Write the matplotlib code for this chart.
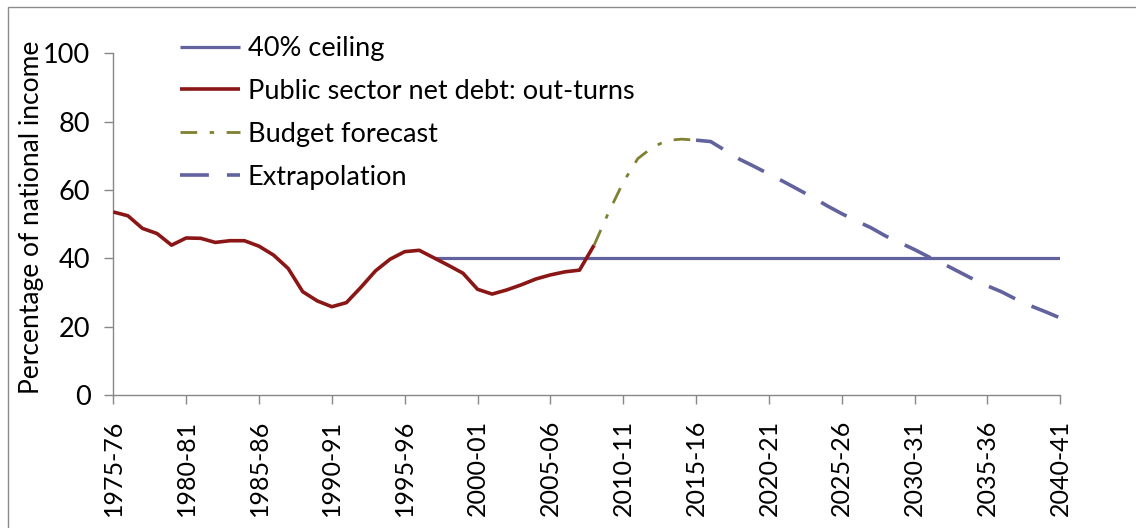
import matplotlib
matplotlib.use('Agg')
import matplotlib.pyplot as plt
from matplotlib.patches import Rectangle

# ---- data ----
years = [f"{y}-{(y + 1) % 100:02d}" for y in range(1975, 2041)]

ceiling_years = ['1997-98', '2040-41']
ceiling_values = [40, 40]

outturn_start = '1975-76'
outturn = [53.6, 52.5, 48.8, 47.3, 43.9, 46.0, 45.9, 44.7, 45.2, 45.2,
           43.6, 41.0, 37.1, 30.3, 27.6, 25.9, 27.1, 31.6, 36.4, 39.8,
           42.0, 42.4, 40.2, 38.0, 35.7, 31.0, 29.6, 30.8, 32.3, 34.0,
           35.2, 36.1, 36.6, 43.9]

forecast_start = '2008-09'
forecast = [43.9, 53.5, 62.3, 69.2, 72.5, 74.5, 74.9, 74.6]

extrap_start = '2015-16'
extrap = [74.6, 74.2, 71.6, 69.0, 66.9, 64.7, 62.5, 60.2, 57.9, 55.4,
          53.1, 51.0, 49.0, 46.6, 44.6, 42.6, 40.4, 38.4, 36.2, 34.0,
          32.0, 30.2, 28.0, 26.1, 24.4, 22.6]

tick_labels = years[::5]
y_ticks = [0, 20, 40, 60, 80, 100]

# ---- style ----
FONT = 'Lato'
plt.rcParams['font.family'] = FONT

W, H = 1136, 528
X0, X1, Y0, Y1 = 113.3, 1060.3, 395.3, 53.3
fig = plt.figure(figsize=(W / 100, H / 100), dpi=100)
ax = fig.add_axes([X0 / W, 1 - Y0 / H, (X1 - X0) / W, (Y0 - Y1) / H])


def pos(label):
    return years.index(label)


def span(start, values):
    s = pos(start)
    return list(range(s, s + len(values)))


blue = '#62629E'
red = '#8A1616'
olive = '#808032'

ax.plot([pos(y) for y in ceiling_years], ceiling_values, color=blue, lw=2.3,
        solid_capstyle='butt', label='40% ceiling', zorder=2)
ax.plot(span(outturn_start, outturn), outturn, color=red, lw=2.6,
        solid_joinstyle='round', solid_capstyle='butt',
        label='Public sector net debt: out-turns', zorder=3)
ax.plot(span(forecast_start, forecast), forecast, color=olive, lw=2.0,
        linestyle=(0, (6, 4.5, 1.6, 4.5)), label='Budget forecast', zorder=4)
ax.plot(span(extrap_start, extrap), extrap, color=blue, lw=2.6,
        linestyle=(0, (8, 5)), label='Extrapolation', zorder=5)

ax.set_xlim(0, len(years) - 1)
ax.set_ylim(0, 100)
ax.set_xticks([pos(t) for t in tick_labels])
ax.set_xticklabels(tick_labels, rotation=90, fontsize=18)
ax.set_yticks(y_ticks)
ax.set_yticklabels([str(v) for v in y_ticks], fontsize=19.5)

for s in ['top', 'right']:
    ax.spines[s].set_visible(False)
for s in ['left', 'bottom']:
    ax.spines[s].set_color('#878787')
    ax.spines[s].set_linewidth(1.0)
ax.tick_params(axis='y', direction='out', length=6.5, width=1.0, color='#878787', pad=10)
ax.tick_params(axis='x', direction='out', length=6.5, width=1.0, color='#878787', pad=11)

ax.set_ylabel('Percentage of national income', fontsize=19)
ax.yaxis.set_label_coords((44 - X0) / (X1 - X0), (Y0 - 217) / (Y0 - Y1))

leg = ax.legend(loc='upper left', bbox_to_anchor=(180 / W, 1 - 36 / H),
                bbox_transform=fig.transFigure, frameon=False, fontsize=19.5,
                handlelength=2.2, handletextpad=0.3, labelspacing=0.66,
                borderpad=0, borderaxespad=0)

fig.patches.append(Rectangle((8 / W, -0.1), 1.2, 1 - 7 / H + 0.1, transform=fig.transFigure,
                             fill=False, ec='#8C8C8C', lw=1.0))

fig.savefig('out.png', dpi=100)
